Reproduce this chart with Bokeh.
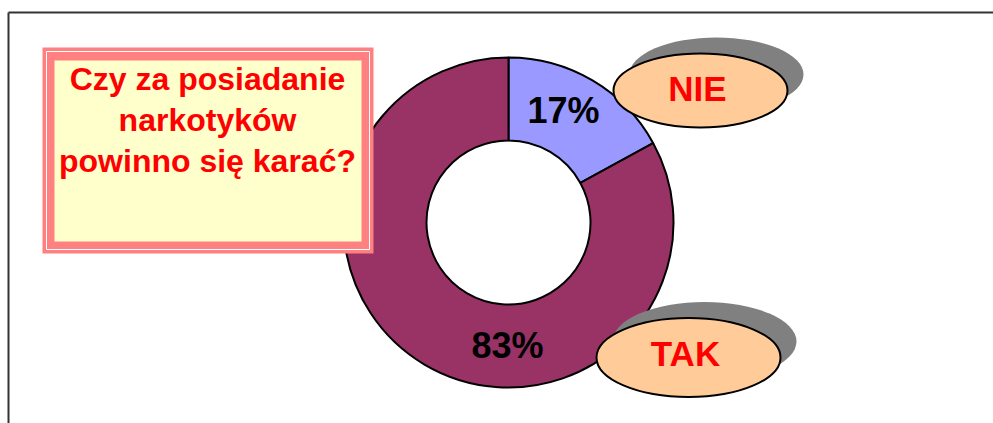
import numpy as np
from bokeh.plotting import figure
from bokeh.models import Range1d
from bokeh.core.properties import value
from bokeh.embed import file_html
from bokeh.resources import INLINE

# ---- data ----
categories = ["NIE", "TAK"]
shares = [17, 83]
slice_colors = ["#9999FF", "#993366"]
title_lines = ["Czy za posiadanie", "narkotyków", "powinno się karać?"]

# ---- layout (page pixel coordinates; data y = -page y) ----
W, H = 993, 423
p = figure(width=W, height=H, x_range=Range1d(0, W), y_range=Range1d(-H, 0),
           output_backend="svg", toolbar_location=None, min_border=0,
           x_axis_location=None, y_axis_location=None)
p.grid.visible = False
p.outline_line_color = None
p.background_fill_color = "white"
p.border_fill_color = "white"

FONT = value("Liberation Sans")
DY = 13  # baseline correction for svg text

# frame lines
p.line([8, W], [-12, -12], line_color="#333333", line_width=2)
p.line([8, 8], [-12, -H], line_color="#333333", line_width=2)

# donut
cx, cy = 508, -222
r_in, r_out = 82, 165
fr = np.array(shares) / sum(shares)
cum = np.concatenate([[0], np.cumsum(fr)])
starts = np.pi / 2 - 2 * np.pi * cum[:-1]
ends = np.pi / 2 - 2 * np.pi * cum[1:]
p.annular_wedge(x=cx, y=cy, inner_radius=r_in, outer_radius=r_out,
                start_angle=list(starts), end_angle=list(ends), direction="clock",
                fill_color=slice_colors, line_color="black", line_width=2)

# percentage labels
label_pos = [(563, -123 + DY), (507, -358 + DY)]
p.text(x=[q[0] for q in label_pos], y=[q[1] for q in label_pos],
       text=[f"{v}%" for v in shares], text_align="center", text_baseline="alphabetic",
       text_font=FONT, text_font_style="bold", text_font_size="36px", text_color="black")

# title box
p.quad(left=42, right=373, top=-47, bottom=-253, fill_color="#FF8080", line_color=None)
p.quad(left=46, right=369, top=-51, bottom=-249, fill_color=None, line_color="white", line_width=1)
p.quad(left=54, right=361, top=-60, bottom=-241, fill_color="#FFFFCC", line_color=None)
p.text(x=[207] * 3, y=[-91 + DY, -132 + DY, -173 + DY], text=title_lines, text_align="center",
       text_baseline="alphabetic", text_font=FONT, text_font_style="bold",
       text_font_size="32px", text_color="#FF0000")

# category callout ellipses
ell = [(700, -90, 174, 74), (688, -357, 184, 79)]
for (ex, ey, ew, eh) in ell:
    p.ellipse(x=ex + 16, y=ey + 16, width=ew, height=eh, fill_color="#808080", line_color=None)
    p.ellipse(x=ex, y=ey, width=ew, height=eh, fill_color="#FFCC99", line_color="black", line_width=2)
cat_pos = [(697, -101 + DY), (685, -366 + DY)]
p.text(x=[q[0] for q in cat_pos], y=[q[1] for q in cat_pos], text=categories,
       text_align="center", text_baseline="alphabetic", text_font=FONT,
       text_font_style="bold", text_font_size="35px", text_color="#FF0000")

open("out.html", "w").write(file_html(p, INLINE))
